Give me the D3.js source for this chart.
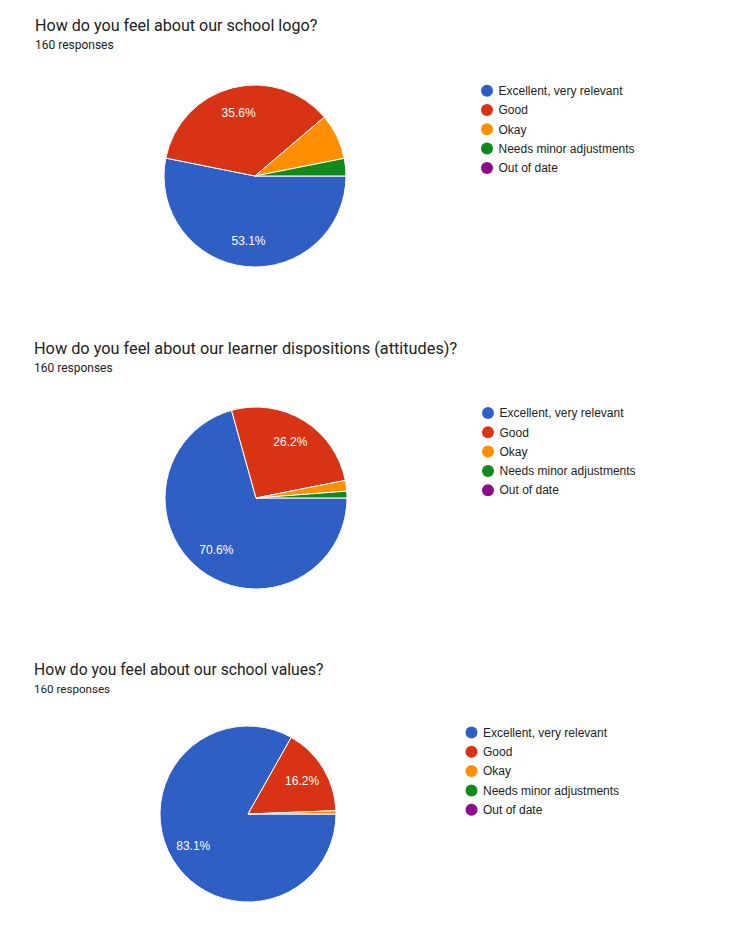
<!DOCTYPE html>
<html>
<head>
<meta charset="utf-8">
<script src="https://cdn.jsdelivr.net/npm/d3@7"></script>
<style>
  body { margin: 0; background: #fff; }
  .title { font-family: Roboto, "Liberation Sans", sans-serif; fill: #202124; }
  .count { font-family: Roboto, "Liberation Sans", sans-serif; fill: #202124; }
  .legend text { font-family: "Liberation Sans", Arial, sans-serif; font-size: 12px; fill: #222; }
  .slice-label { font-family: "Liberation Sans", Arial, sans-serif; font-size: 12px; fill: #fff; }
</style>
</head>
<body>
<script>
// answer options, same for every question
const categories = ["Excellent, very relevant", "Good", "Okay", "Needs minor adjustments", "Out of date"];
const colors = ["#2f5ec5", "#d83315", "#ff8f00", "#12891c", "#8c0a8c"];

const questions = [
  "How do you feel about our school logo?",
  "How do you feel about our learner dispositions (attitudes)?",
  "How do you feel about our school values?"
];
const responses = [160, 160, 160];

// percent per option
const logoValues = [53.1, 35.6, 8.1, 3.1, 0];
const dispositionValues = [70.6, 26.2, 1.9, 1.2, 0];
const valuesValues = [83.1, 16.2, 0.6, 0, 0];
const seriesValues = [logoValues, dispositionValues, valuesValues];

// where each block sits on the page (the last one is a bit smaller in the screenshot)
const layout = [
  { tx: 35, ty: 31, fs: 16.1, cs: 12, cx: 255, cy: 176, r: 91, lx: 487, ly: 90.7 },
  { tx: 34, ty: 354, fs: 16.3, cs: 12, cx: 256, cy: 498, r: 91, lx: 488, ly: 413 },
  { tx: 34, ty: 675, fs: 15.7, cs: 11.6, cx: 248, cy: 814, r: 88, lx: 471.5, ly: 732.5 }
];

const svg = d3.select("body")
  .append("svg")
  .attr("width", 754)
  .attr("height", 939);

const color = d3.scaleOrdinal().domain(categories).range(colors);

const pie = d3.pie()
  .sort(null)
  .value(d => d.value)
  .startAngle(Math.PI / 2)
  .endAngle(Math.PI / 2 + 2 * Math.PI);

seriesValues.forEach(function (vals, i) {
  let L = layout[i];
  let g = svg.append("g");

  g.append("text")
    .attr("class", "title")
    .attr("x", L.tx)
    .attr("y", L.ty)
    .style("font-size", L.fs + "px")
    .text(questions[i]);

  g.append("text")
    .attr("class", "count")
    .attr("x", L.tx)
    .attr("y", L.ty + 18)
    .style("font-size", L.cs + "px")
    .text(responses[i] + " responses");

  let data = categories.map((c, j) => ({ name: c, value: vals[j] }));
  let arcs = pie(data).filter(d => d.value > 0);

  let arc = d3.arc().innerRadius(0).outerRadius(L.r);
  let labelArc = d3.arc().innerRadius(L.r * 0.72).outerRadius(L.r * 0.72);

  let chart = g.append("g")
    .attr("transform", "translate(" + L.cx + "," + L.cy + ")");

  chart.selectAll("path")
    .data(arcs)
    .enter()
    .append("path")
    .attr("d", arc)
    .style("fill", d => color(d.data.name))
    .style("stroke", "#fff")
    .style("stroke-width", 1);

  // only the big slices get a label, like the original
  chart.selectAll("text")
    .data(arcs.filter(d => d.value >= 10))
    .enter()
    .append("text")
    .attr("class", "slice-label")
    .attr("transform", d => "translate(" + labelArc.centroid(d) + ")")
    .attr("text-anchor", "middle")
    .attr("dy", "0.35em")
    .text(d => d.value.toFixed(1) + "%");

  let legend = g.append("g")
    .attr("class", "legend")
    .attr("transform", "translate(" + L.lx + "," + L.ly + ")");

  let rows = legend.selectAll("g")
    .data(categories)
    .enter()
    .append("g")
    .attr("transform", (d, j) => "translate(0," + j * 19.3 + ")");

  rows.append("circle")
    .attr("r", 6)
    .style("fill", d => color(d));

  rows.append("text")
    .attr("x", 11.5)
    .attr("dy", "0.35em")
    .text(d => d);
});
</script>
</body>
</html>
